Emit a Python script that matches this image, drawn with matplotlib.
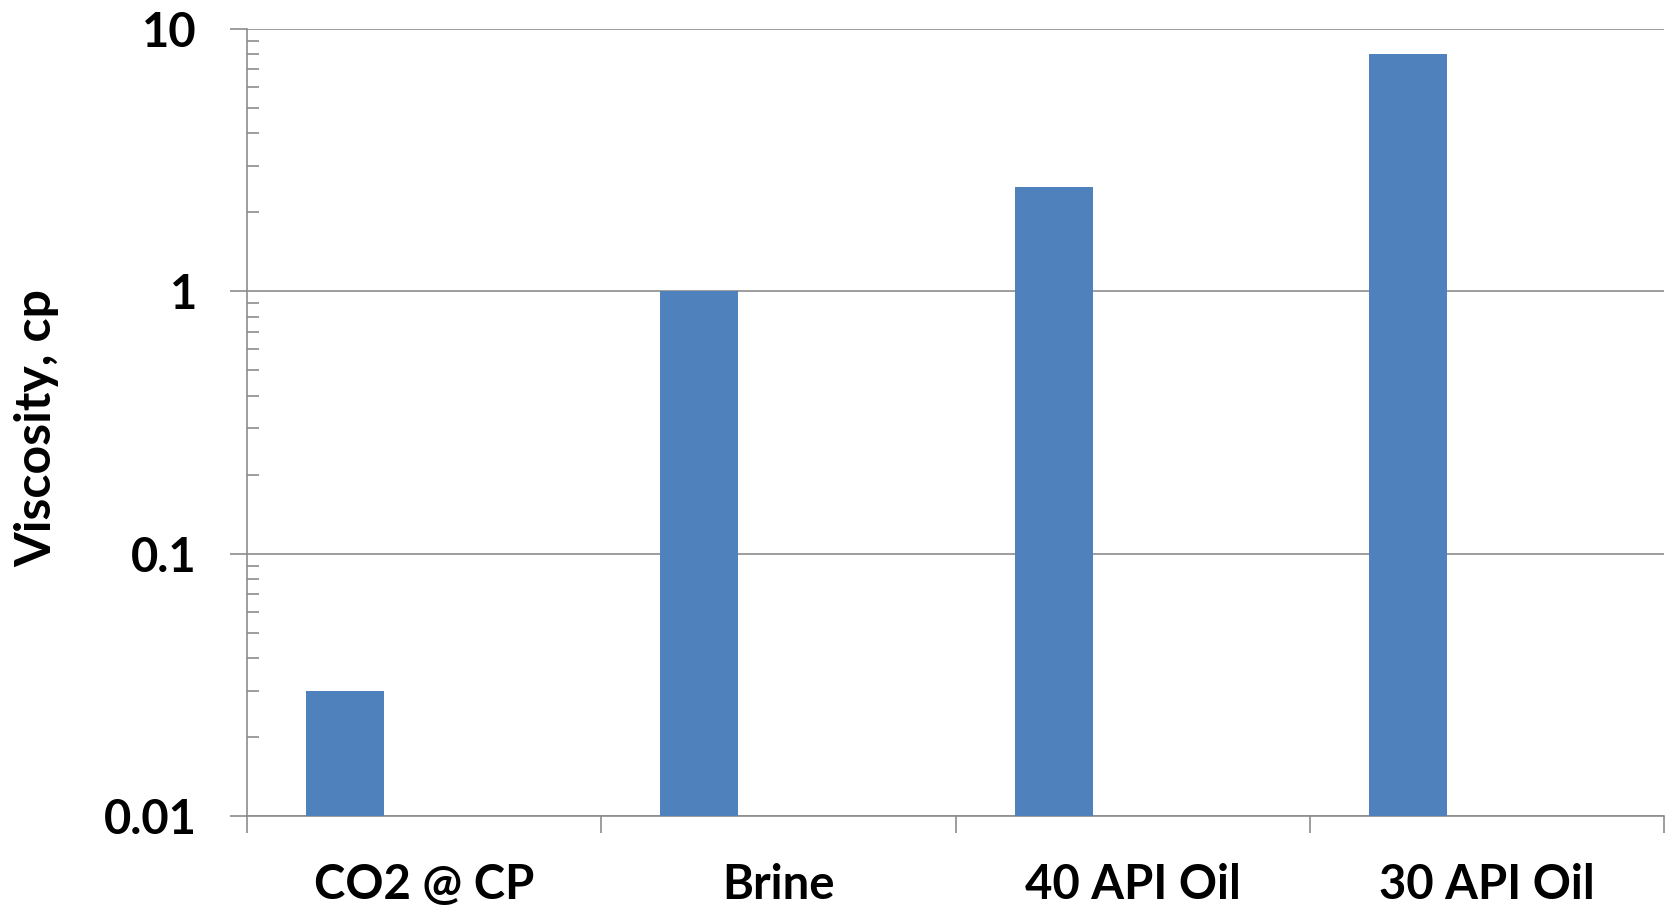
import matplotlib
matplotlib.use("Agg")
import matplotlib.pyplot as plt
import numpy as np
from matplotlib.ticker import LogLocator, NullFormatter, FixedLocator

categories = ['CO2 @ CP', 'Brine', '40 API Oil', '30 API Oil']
viscosity = [0.03, 1.0, 2.5, 8.0]
ytick_vals = [0.01, 0.1, 1, 10]
ytick_labels = ['0.01', '0.1', '1', '10']

plt.rcParams['font.family'] = ['Lato', 'DejaVu Sans']
plt.rcParams['font.weight'] = 'bold'

grey = '#8c8c8c'
fig = plt.figure(figsize=(16.69, 9.10), dpi=100)
ax = fig.add_axes([0.148, 0.1033, 0.849, 0.865])

x = np.arange(len(categories))
# bars sit left of centre, as in an Excel cluster with empty series
ax.bar(x - 0.223, viscosity, width=0.22, color='#4f81bd', zorder=3)

ax.set_yscale('log')
ax.set_ylim(0.01, 10)
ax.set_xlim(-0.5, len(categories) - 0.5)

ax.set_yticks(ytick_vals)
ax.set_yticklabels(ytick_labels)
ax.yaxis.set_minor_locator(LogLocator(base=10, subs=np.arange(2, 10)))
ax.yaxis.set_minor_formatter(NullFormatter())
ax.tick_params(axis='y', which='major', direction='out', length=12, width=1.2,
               color=grey, labelsize=34, pad=24)
ax.tick_params(axis='y', which='minor', direction='in', length=8.5, width=1.2,
               color=grey)

ax.set_xticks(np.arange(-0.5, len(categories)))
ax.set_xticklabels([])
ax.xaxis.set_minor_locator(FixedLocator(x))
ax.set_xticklabels(categories, minor=True)
ax.tick_params(axis='x', which='major', direction='out', length=12, width=1.2,
               color=grey)
ax.tick_params(axis='x', which='minor', length=0, labelsize=34, pad=34)

ax.grid(axis='y', which='major', color=grey, lw=1.2, zorder=0)
for s in ['top', 'right']:
    ax.spines[s].set_visible(False)
for s in ['left', 'bottom']:
    ax.spines[s].set_color(grey)
    ax.spines[s].set_linewidth(1.2)

fig.text(37 / 1669, 1 - 428 / 910, 'Viscosity, cp', rotation=90,
         ha='center', va='center', fontsize=36, fontweight='bold')

fig.savefig('out.png', dpi=100)
